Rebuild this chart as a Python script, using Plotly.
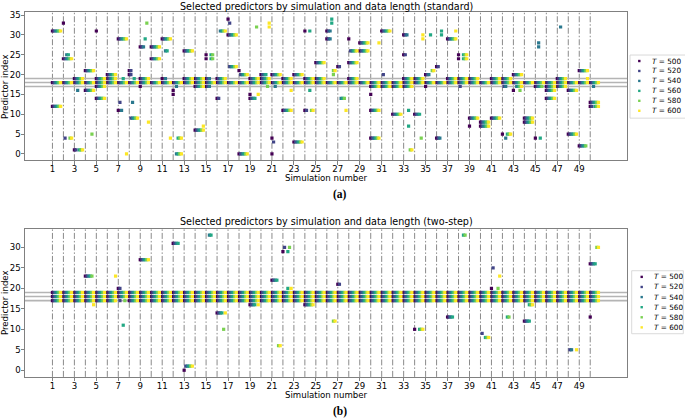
import plotly.graph_objects as go

W, H = 685, 419

T_VALUES = [500, 520, 540, 560, 580, 600]
T_COLORS = ["#440154", "#414487", "#2a788e", "#22a884", "#7ad151", "#fde725"]
SIMS = list(range(1, 51))
X_TICKS = list(range(1, 50, 2))
Y_TICKS_A = [0, 5, 10, 15, 20, 25, 30, 35]
Y_TICKS_B = [0, 5, 10, 15, 20, 25, 30]
CORE_ROWS = [17, 18, 19]

# selected T-indices (0 -> T=500 ... 5 -> T=600) for each simulation
ALL = "012345"

# ---- (a) standard ----
STD_P17 = ["", "", "", "", ALL, "", "", "", "0", "",
           "", "2", "", ALL, "012", "", "", "", "", "4",
           "2", "", "", "", "", "", "", "", "", ALL,
           ALL, ALL, ALL, "", "0", "", "", "1", "", "",
           "", "12", "2345", "", "01234", ALL, ALL, "", "", "2"]
STD_P18 = [ALL, ALL, ALL, ALL, ALL, ALL, ALL, ALL, ALL, ALL,
           ALL, ALL, ALL, ALL, ALL, ALL, ALL, ALL, ALL, ALL,
           ALL, ALL, ALL, ALL, ALL, ALL, ALL, ALL, ALL, ALL,
           ALL, ALL, ALL, ALL, ALL, ALL, ALL, ALL, ALL, ALL,
           ALL, ALL, ALL, ALL, ALL, ALL, ALL, ALL, ALL, ALL]
STD_P19 = ["", "", ALL, "", ALL, ALL, "3", "3", ALL, "",
           "02", "", ALL, ALL, "012", ALL, "", "", ALL, ALL,
           "", ALL, "", ALL, ALL, "", "", ALL, "", "",
           "", "", ALL, ALL, "", "", ALL, ALL, ALL, "",
           ALL, ALL, "", "", "", "", ALL, "", "5", ""]
STD_OTHER = [
    (1, 31, ALL), (1, 12, ALL), (2, 33, "0"), (2, 25, "23"), (2, 24, ALL),
    (2, 4, "145"), (3, 16, "2"), (3, 1, "01345"), (4, 21, ALL), (4, 16, ALL),
    (4, 5, "4"), (5, 31, "0"), (5, 14, ALL), (6, 20, ALL), (7, 29, ALL),
    (7, 13, "1"), (7, 11, "02"), (7, 0, "5"), (8, 21, "01"), (8, 20, "01"),
    (8, 13, "2"), (8, 9, "12345"), (9, 33, "4"), (9, 29, "3"), (9, 27, "012"),
    (9, 8, "5"), (10, 27, ALL), (10, 24, ALL), (11, 29, ALL), (11, 26, "23"),
    (11, 4, "5"), (12, 16, "0"), (12, 15, "0"), (12, 4, "345"), (12, 0, "2345"),
    (13, 26, ALL), (14, 7, "5"), (14, 6, ALL), (15, 25, "034"), (15, 24, "034"),
    (16, 31, "2345"), (16, 14, "01"), (17, 34, "0"), (17, 33, "1"), (17, 30, ALL),
    (17, 22, "12345"), (18, 21, "0"), (18, 20, "12345"), (18, 0, ALL),
    (19, 32, "4"), (19, 15, "05"), (19, 14, "0123"), (20, 33, "5"), (20, 32, "5"),
    (20, 20, "0123"), (21, 20, ALL), (21, 4, "0"), (21, 3, "1"), (21, 0, "0"),
    (22, 16, "5"), (22, 11, ALL), (23, 20, ALL), (23, 3, ALL), (24, 31, "03"),
    (24, 16, "3"), (24, 11, "0145"), (25, 23, ALL), (26, 34, "3"), (26, 33, "3"),
    (26, 31, "012"), (26, 29, "012"), (26, 21, "45"), (26, 20, "4"),
    (27, 22, "01"), (27, 14, "234"), (27, 11, "5"), (28, 29, "0"), (28, 26, "12345"),
    (28, 23, ALL), (29, 28, ALL), (29, 26, ALL), (30, 28, "5"), (30, 15, "0"),
    (30, 11, ALL), (30, 4, ALL), (31, 31, ALL), (31, 20, "1"), (32, 10, ALL),
    (33, 30, "012"), (33, 25, "01"), (33, 11, "3"), (33, 7, "3"), (33, 1, "45"),
    (34, 30, "5"), (34, 29, "5"), (34, 10, "0123"), (34, 4, "4"), (35, 30, "3"),
    (35, 21, "45"), (35, 20, "012"), (36, 31, "3"), (36, 30, "3"), (36, 22, "01"),
    (36, 4, "012"), (37, 31, "5"), (37, 29, ALL), (38, 25, "0345"), (38, 24, "0345"),
    (39, 9, ALL), (39, 7, "0"), (40, 8, ALL), (40, 7, ALL), (41, 9, ALL),
    (42, 5, "0345"), (42, 4, "2"), (43, 20, ALL), (43, 16, "04"), (44, 9, ALL),
    (44, 8, ALL), (45, 28, "2"), (45, 27, "2"), (45, 4, "03"), (46, 16, ALL),
    (46, 14, ALL), (47, 32, "2"), (48, 16, ALL), (48, 5, ALL), (49, 21, ALL),
    (49, 2, "01234"), (50, 13, ALL), (50, 12, "01345"),
]

# ---- (b) two-step ----
TS_P17 = [ALL, ALL, ALL, ALL, ALL, ALL, "14", ALL, ALL, ALL,
          ALL, ALL, ALL, ALL, ALL, ALL, ALL, ALL, ALL, ALL,
          ALL, ALL, ALL, ALL, ALL, ALL, ALL, ALL, ALL, ALL,
          ALL, ALL, ALL, ALL, ALL, ALL, ALL, ALL, ALL, ALL,
          ALL, ALL, ALL, ALL, ALL, ALL, ALL, ALL, ALL, ALL]
TS_P18 = [ALL, ALL, ALL, ALL, ALL, ALL, ALL, ALL, ALL, ALL,
          ALL, ALL, ALL, ALL, ALL, ALL, ALL, ALL, ALL, ALL,
          ALL, ALL, ALL, ALL, ALL, ALL, ALL, ALL, ALL, ALL,
          ALL, ALL, ALL, ALL, ALL, ALL, ALL, ALL, ALL, ALL,
          ALL, ALL, ALL, ALL, ALL, ALL, ALL, ALL, ALL, ALL]
TS_P19 = [ALL, ALL, ALL, ALL, ALL, ALL, ALL, ALL, ALL, ALL,
          ALL, ALL, ALL, ALL, ALL, ALL, ALL, ALL, ALL, ALL,
          ALL, ALL, ALL, ALL, ALL, ALL, ALL, ALL, ALL, ALL,
          ALL, ALL, ALL, ALL, ALL, ALL, ALL, ALL, ALL, ALL,
          ALL, ALL, ALL, ALL, ALL, ALL, ALL, ALL, ALL, ALL]
TS_OTHER = [
    (4, 23, "01234"), (4, 16, "5"), (6, 23, "5"), (7, 20, "01"), (7, 11, "3"),
    (9, 27, ALL), (12, 31, "0123"), (13, 1, "12345"), (13, 0, "0"), (15, 33, "23"),
    (16, 14, "01235"), (16, 10, "4"), (19, 16, "01235"), (21, 22, "0123"),
    (21, 6, "45"), (22, 30, "14"), (22, 29, "03"), (22, 20, "35"), (24, 16, ALL),
    (26, 12, "45"), (27, 21, "01"), (34, 10, "0345"), (37, 13, "0123"),
    (38, 33, "34"), (40, 9, "1"), (40, 8, "345"), (41, 25, "1"), (41, 23, "5"),
    (41, 20, "04"), (42, 13, "34"), (44, 16, "345"), (44, 12, "0123"),
    (48, 5, "125"), (50, 30, "45"), (50, 26, "0123"), (50, 13, "0"),
]

STEP = 0.15  # horizontal offset between data lengths inside one simulation slot


def collect(core, other):
    rows = []
    for pred, col in zip(CORE_ROWS, core):
        for sim, sel in zip(SIMS, col):
            rows.append((sim, pred, sel))
    rows += other
    pts = {k: ([], []) for k in range(len(T_VALUES))}
    for sim, pred, sel in rows:
        for ch in sel:
            k = int(ch)
            pts[k][0].append(sim + STEP * k)
            pts[k][1].append(pred)
    return pts


def px(x):
    return x / W


def py(y):
    return 1 - y / H


def label(text, x, y, size=8.6, family="DejaVu Sans", xanchor="center", **kw):
    return dict(text=text, x=px(x), y=py(y), xref="paper", yref="paper", showarrow=False,
                xanchor=xanchor, yanchor="middle", borderpad=0,
                font=dict(family=family, size=size, color="black"), **kw)


fig = go.Figure()
panels = [
    ("x", "y", collect([STD_P17, STD_P18, STD_P19], STD_OTHER)),
    ("x2", "y2", collect([TS_P17, TS_P18, TS_P19], TS_OTHER)),
]
for xa, ya, pts in panels:
    for k, t in enumerate(T_VALUES):
        fig.add_trace(go.Scatter(
            x=pts[k][0], y=pts[k][1], mode="markers", xaxis=xa, yaxis=ya,
            marker=dict(symbol="square", size=3.2, color=T_COLORS[k], line_width=0),
            name=f"T = {t}", showlegend=False, hoverinfo="skip"))

shapes = []
for xr, yr in [("x", "y"), ("x2", "y2")]:
    for s in SIMS:
        shapes.append(dict(type="line", xref=xr, yref=f"{yr} domain", x0=s, x1=s, y0=0, y1=1,
                           line=dict(color="#8a8a8a", width=1, dash="6px,2px,1.5px,2px"),
                           layer="below"))
    for r in CORE_ROWS:
        shapes.append(dict(type="line", xref=f"{xr} domain", yref=yr, x0=0, x1=1, y0=r, y1=r,
                           line=dict(color="#b4b4b4", width=1.6), layer="below"))

font = dict(family="DejaVu Sans", size=8.6, color="black")
axis_common = dict(showgrid=False, zeroline=False, showline=True, mirror=True,
                   linecolor="#808080", linewidth=1, ticks="outside", ticklen=3.5,
                   tickcolor="#808080", tickfont=font)
xdom = [px(25), px(627)]
fig.update_layout(
    width=W, height=H, margin=dict(l=0, r=0, t=0, b=0),
    plot_bgcolor="white", paper_bgcolor="white", showlegend=False,
    xaxis=dict(domain=xdom, anchor="y", range=[-1.5, 53.35], tickvals=X_TICKS,
               ticklabelstandoff=-3, **axis_common),
    yaxis=dict(domain=[py(159), py(10)], anchor="x", range=[-1.6, 35.8],
               tickvals=Y_TICKS_A, ticklabelstandoff=-2, **axis_common),
    xaxis2=dict(domain=xdom, anchor="y2", range=[-1.5, 53.35], tickvals=X_TICKS,
                ticklabelstandoff=-3, **axis_common),
    yaxis2=dict(domain=[py(376.7), py(227.7)], anchor="x2", range=[-1.63, 34.6],
                tickvals=Y_TICKS_B, ticklabelstandoff=-2, **axis_common),
)

ann = []
texts = [
    ("Selected predictors by simulation and data length (standard)", 4.5, 177, 193, 85, "(a)"),
    ("Selected predictors by simulation and data length (two-step)", 221, 394.5, 411, 302, "(b)"),
]
for title, ty, xl, lab, yl, tag in texts:
    ann.append(label(title, 326, ty, size=9.6))
    ann.append(label("Simulation number", 326, xl))
    ann.append(label(f"<b>{tag}</b>", 340, lab, size=11.5, family="Liberation Serif"))
    ann.append(label("Predictor index", 4.5, yl, textangle=-90))

# legends drawn by hand so the entries stay as compact as in the reference
legends = [(630, 691, 53.3, 116.7, 639.3, 650.5, 59.3, 10.0),
           (631.7, 683.3, 270, 333.3, 641.7, 652.5, 276.2, 10.15)]
for x0, x1, y0, y1, mx, tx, ey, dy in legends:
    shapes.append(dict(type="rect", xref="paper", yref="paper", x0=px(x0), x1=px(x1),
                       y0=py(y1), y1=py(y0), line=dict(color="#d0d0d0", width=0.8),
                       fillcolor="white"))
    for k, t in enumerate(T_VALUES):
        yy = ey + k * dy
        shapes.append(dict(type="rect", xref="paper", yref="paper",
                           x0=px(mx - 1.2), x1=px(mx + 1.2), y0=py(yy + 1.2), y1=py(yy - 1.2),
                           line_width=0, fillcolor=T_COLORS[k]))
        ann.append(label(f"<i>T</i> = {t}", tx, yy, size=7.3, xanchor="left"))

fig.update_layout(shapes=shapes, annotations=ann)
fig.write_html("out.html", config={"displayModeBar": False},
               post_script="document.body.style.margin='0px';")
